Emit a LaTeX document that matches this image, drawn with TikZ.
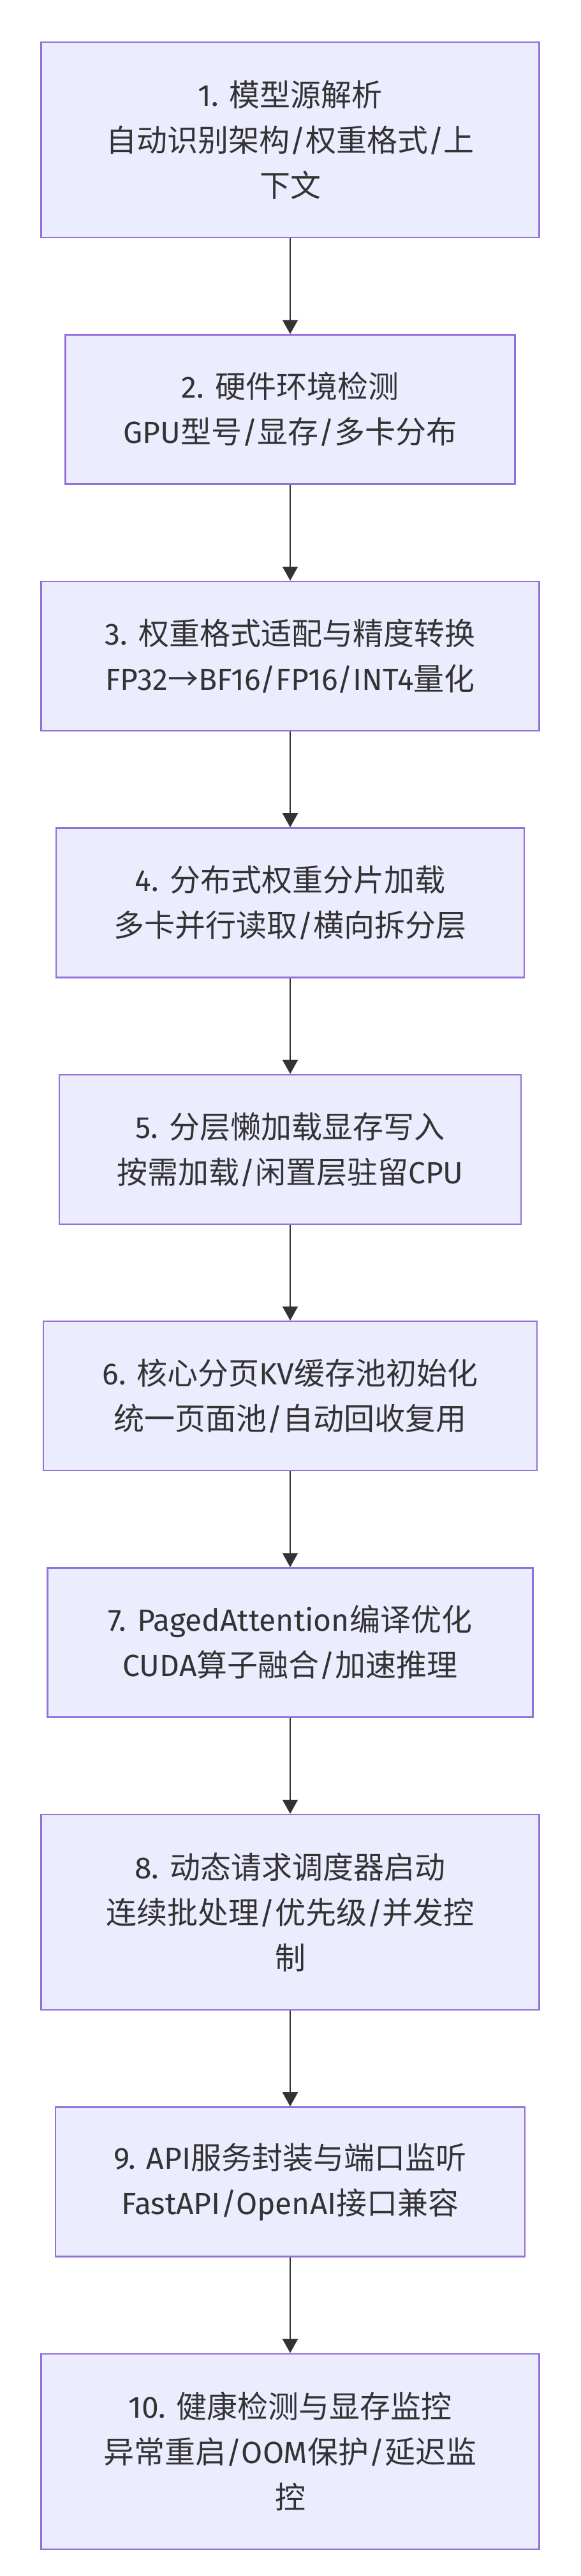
\documentclass[tikz,border=0pt]{standalone}
\usepackage{fontspec}
\setmainfont{Fira Sans}
\newfontfamily\latinfont{Fira Sans}
\newfontfamily\cjkfont{Noto Sans CJK SC}
\usetikzlibrary{arrows.meta, positioning}

% Latin in Fira Sans, Chinese (and the arrow) in Noto Sans CJK
\XeTeXinterchartokenstate=1
\count255="4E00
\loop
  \XeTeXcharclass\count255=7
  \ifnum\count255<"9FFF \advance\count255 by 1
\repeat
\XeTeXcharclass`→=7
\XeTeXinterchartoks 0 7 = {\cjkfont}
\XeTeXinterchartoks 4095 7 = {\cjkfont}
\XeTeXinterchartoks 7 0 = {\latinfont}
\XeTeXinterchartoks 4095 0 = {\latinfont}

\definecolor{boksfyll}{HTML}{ECECFF}
\definecolor{boksrand}{HTML}{9370DB}
\definecolor{tekst}{HTML}{333333}

\begin{document}
\begin{tikzpicture}[
    x=1pt, y=1pt,
    node distance=75pt,
    boks/.style={rectangle, fill=boksfyll, draw=boksrand, line width=1.2pt,
        text=tekst, align=center, inner sep=0pt, minimum height=117pt,
        font=\fontsize{24pt}{35.5pt}\selectfont},
    hoy/.style={minimum height=153pt},
    pil/.style={draw=tekst, line width=1pt,
        -{Triangle[length=11pt, width=12pt]}}
    ]
\useasboundingbox (0,0) rectangle (455,-2018);

%Loading part
\node[boks, hoy, minimum width=390.5pt, anchor=north] (parse) at (227.5,-32.5)
    {1. 模型源解析\\自动识别架构/权重格式/上\\下文};
\node[boks, minimum width=352.5pt, below=of parse] (hw)
    {2. 硬件环境检测\\GPU型号/显存/多卡分布};
\node[boks, minimum width=390.5pt, below=of hw] (weights)
    {3. 权重格式适配与精度转换\\FP32→BF16/FP16/INT4量化};
\node[boks, minimum width=367pt, below=of weights] (shard)
    {4. 分布式权重分片加载\\多卡并行读取/横向拆分层};
\node[boks, minimum width=362pt, below=of shard] (lazy)
    {5. 分层懒加载显存写入\\按需加载/闲置层驻留CPU};
%Serving part
\node[boks, minimum width=387pt, below=of lazy] (kvpool)
    {6. 核心分页KV缓存池初始化\\统一页面池/自动回收复用};
\node[boks, minimum width=380.5pt, below=of kvpool] (paged)
    {7. PagedAttention编译优化\\CUDA算子融合/加速推理};
\node[boks, hoy, minimum width=390.5pt, below=of paged] (sched)
    {8. 动态请求调度器启动\\连续批处理/优先级/并发控\\制};
\node[boks, minimum width=368pt, below=of sched] (api)
    {9. API服务封装与端口监听\\FastAPI/OpenAI接口兼容};
\node[boks, hoy, minimum width=390.5pt, below=of api] (health)
    {10. 健康检测与显存监控\\异常重启/OOM保护/延迟监\\控};

%Arrows
\draw[pil] (parse) -- (hw);
\draw[pil] (hw) -- (weights);
\draw[pil] (weights) -- (shard);
\draw[pil] (shard) -- (lazy);
\draw[pil] (lazy) -- (kvpool);
\draw[pil] (kvpool) -- (paged);
\draw[pil] (paged) -- (sched);
\draw[pil] (sched) -- (api);
\draw[pil] (api) -- (health);
\end{tikzpicture}
\end{document}
